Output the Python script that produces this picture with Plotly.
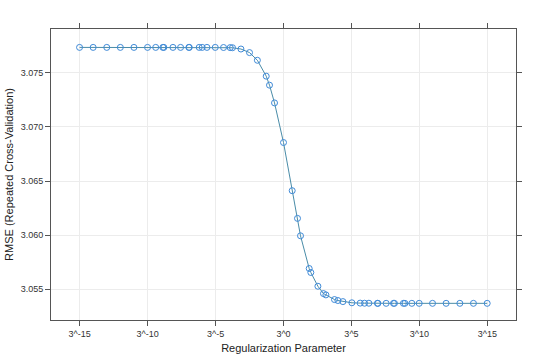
import plotly.graph_objects as go

# log3(lambda) exponents of the tuned regularization parameter
log3_lambda = [-15, -14, -13, -12, -11, -10, -9.4, -8.87, -8.8, -8.13, -7.57, -6.96, -6.93,
               -6.2, -5.98, -5.63, -5.02, -4.41, -3.92, -3.75, -3.13, -2.5, -1.92, -1.27,
               -1.03, -0.66, 0.0, 0.64, 1.03, 1.25, 1.89, 2.01, 2.53, 2.94, 3.12, 3.75,
               4.0, 4.37, 5.03, 5.64, 5.96, 6.28, 6.91, 6.94, 7.55, 8.09, 8.16, 8.82,
               8.93, 9.44, 9.98, 10.96, 11.96, 12.97, 13.97, 14.98]
rmse = [3.07735, 3.07735, 3.07735, 3.07735, 3.07735, 3.07735, 3.07735, 3.07735, 3.07735,
        3.07735, 3.07735, 3.07735, 3.07735, 3.07735, 3.07735, 3.07735, 3.07735, 3.07734,
        3.07733, 3.07732, 3.07720, 3.07687, 3.07616, 3.07469, 3.07386, 3.07222, 3.06856,
        3.06411, 3.06155, 3.05994, 3.05692, 3.05655, 3.05528, 3.05460, 3.05448, 3.05405,
        3.05396, 3.05386, 3.05375, 3.05372, 3.05371, 3.05371, 3.05370, 3.05370, 3.05370,
        3.05370, 3.05370, 3.05370, 3.05370, 3.05370, 3.05370, 3.05370, 3.05370, 3.05370,
        3.05370, 3.05370]

x_tickvals = [-15, -10, -5, 0, 5, 10, 15]
x_ticktext = ["3^-15", "3^-10", "3^-5", "3^0", "3^5", "3^10", "3^15"]
y_tickvals = [3.055, 3.060, 3.065, 3.070, 3.075]
y_ticktext = ["3.055", "3.060", "3.065", "3.070", "3.075"]

fig = go.Figure()
fig.add_trace(go.Scatter(
    x=log3_lambda, y=rmse, mode="lines+markers",
    line=dict(color="#4a8ca8", width=1),
    marker=dict(symbol="circle-open", size=6, color="#3f8ad8", line=dict(width=1, color="#3f8ad8")),
    showlegend=False,
))

axis_common = dict(
    showline=True, linecolor="#555555", linewidth=1, mirror="ticks",
    ticks="outside", ticklen=5, tickcolor="#555555", tickwidth=1,
    showgrid=True, gridcolor="#ececec", gridwidth=1, zeroline=False,
    automargin=False,
    tickfont=dict(family="Liberation Sans, Arial", size=9, color="#333333"),
)

fig.update_xaxes(
    range=[-17.1, 17.1], tickvals=x_tickvals, ticktext=x_ticktext,
    title=dict(text="Regularization Parameter", standoff=6,
               font=dict(family="Liberation Sans, Arial", size=11, color="#222222")),
    **axis_common,
)
fig.update_yaxes(
    range=[3.05216, 3.07905], tickvals=y_tickvals, ticktext=y_ticktext,
    title=dict(text="RMSE (Repeated Cross-Validation)", standoff=4,
               font=dict(family="Liberation Sans, Arial", size=11, color="#222222")),
    **axis_common,
)

fig.update_layout(
    width=540, height=364,
    margin=dict(l=51, r=24, t=29, b=44),
    paper_bgcolor="white", plot_bgcolor="white",
)

fig.write_html("out.html", config={"displayModeBar": False},
               post_script="document.body.style.margin='0';document.body.style.padding='0';")
